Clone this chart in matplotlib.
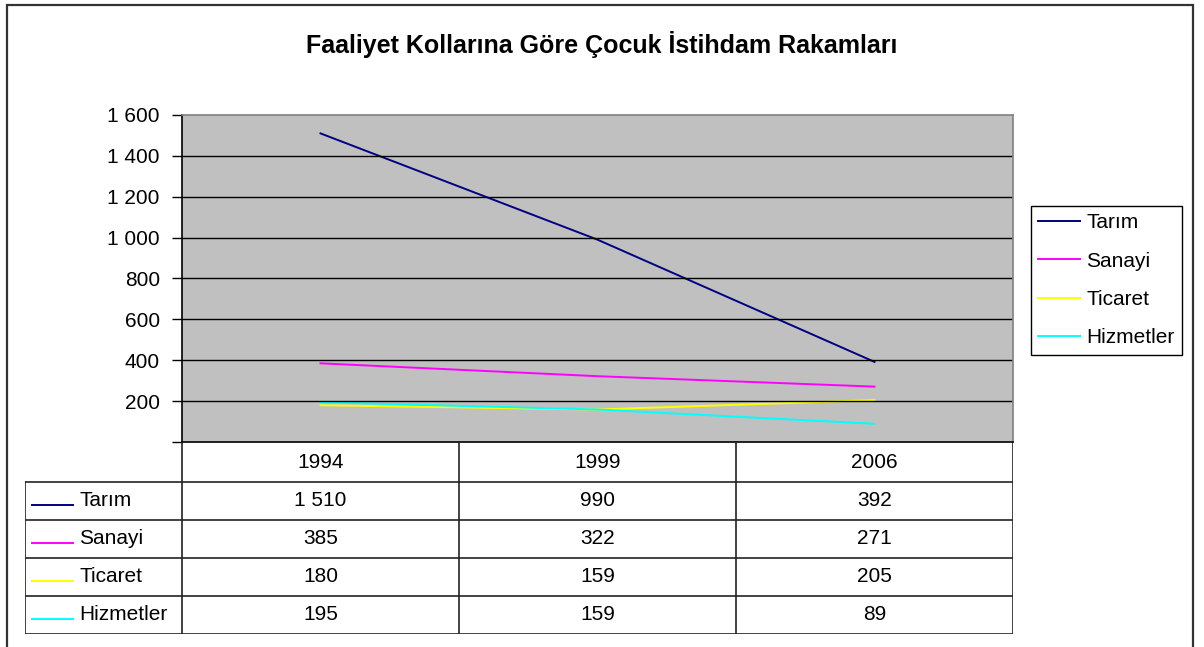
import numpy as np
import matplotlib.pyplot as plt
from matplotlib.lines import Line2D
from matplotlib.patches import Rectangle

plt.rcParams['font.family'] = ['Liberation Sans', 'DejaVu Sans']

# veriler
years = ['1994', '1999', '2006']
series_names = ['Tarım', 'Sanayi', 'Ticaret', 'Hizmetler']
tarim = [1510, 990, 392]
sanayi = [385, 322, 271]
ticaret = [180, 159, 205]
hizmetler = [195, 159, 89]
colors = ['#000080', '#FF00FF', '#FFFF00', '#00FFFF']
y_ticks = [200, 400, 600, 800, 1000, 1200, 1400, 1600]

all_series = [tarim, sanayi, ticaret, hizmetler]

W, H = 1204, 647
fig = plt.figure(figsize=(W / 100, H / 100), dpi=100)

def fx(px):
    return px / W

def fy(py):
    return 1 - py / H

# dış çerçeve
fig.patches.append(Rectangle((fx(7), -0.05), fx(1193 - 7), fy(5) + 0.05,
                             transform=fig.transFigure, fill=False,
                             edgecolor='#333333', lw=1.6))

fig.text(0.5, fy(45), 'Faaliyet Kollarına Göre Çocuk İstihdam Rakamları',
         ha='center', va='center', fontsize=18, fontweight='bold')

# grafik alanı
left, right, top, bottom = 182, 1013, 115, 442
ax = fig.add_axes([fx(left), fy(bottom), fx(right - left), (bottom - top) / H])
ax.set_facecolor('#C0C0C0')
x = np.arange(len(years))
for vals, name, c in zip(all_series, series_names, colors):
    ax.plot(x, vals, color=c, lw=1.4, label=name)
ax.set_xlim(-0.5, len(years) - 0.5)
ax.set_ylim(0, 1600)
ax.set_yticks([0] + y_ticks)
ax.set_yticklabels([''] + [f'{v:,}'.replace(',', ' ') for v in y_ticks], fontsize=15)
ax.set_xticks([])
for v in y_ticks[:-1]:
    ax.axhline(v, color='black', lw=1)
ax.tick_params(axis='y', length=7, width=1, pad=9)
ax.spines['left'].set_color('black')
ax.spines['bottom'].set_color('black')
ax.spines['top'].set_color('#808080')
ax.spines['right'].set_color('#808080')
for s in ax.spines.values():
    s.set_linewidth(1.2)

# lejant
handles = [Line2D([], [], color=c, lw=1.4) for c in colors]
leg = fig.legend(handles, series_names, loc='upper left',
                 bbox_to_anchor=(fx(1031), fy(206)), borderaxespad=0,
                 fontsize=15, handlelength=2.0, handletextpad=0.3,
                 labelspacing=0.93, borderpad=0.35, fancybox=False,
                 framealpha=1, edgecolor='black')
leg.get_frame().set_linewidth(1.0)

# veri tablosu
tleft, tbot = 25, 634
label_w = (left - tleft) / ((right - left) / len(years))
tab = fig.add_axes([fx(tleft), fy(tbot), fx(right - tleft), (tbot - bottom) / H])
tab.set_xlim(-0.5 - label_w, len(years) - 0.5)
row_h = [40, 38, 38, 38, 38]
edges = np.concatenate([[0], np.cumsum(row_h)])
tab.set_ylim(edges[-1], 0)
tab.axis('off')
lc = '#222222'
for i in range(len(years) + 1):
    tab.plot([i - 0.5, i - 0.5], [0, edges[-1]], color=lc, lw=1.2)
tab.plot([-0.5 - label_w, -0.5 - label_w], [edges[1], edges[-1]], color=lc, lw=1.2)
for e in edges[1:]:
    tab.plot([-0.5 - label_w, len(years) - 0.5], [e, e], color=lc, lw=1.2)
for i, yr in enumerate(years):
    tab.text(i, (edges[0] + edges[1]) / 2, yr, ha='center', va='center', fontsize=15)
for r, (vals, name, c) in enumerate(zip(all_series, series_names, colors)):
    yc = (edges[r + 1] + edges[r + 2]) / 2
    x0 = -0.5 - label_w
    tab.plot([x0 + 0.025, x0 + 0.175], [yc + 4, yc + 4], color=c, lw=1.4)
    tab.text(x0 + 0.195, yc, name, ha='left', va='center', fontsize=15)
    for i, v in enumerate(vals):
        tab.text(i, yc, f'{v:,}'.replace(',', ' '), ha='center', va='center', fontsize=15)

fig.savefig('out.png', dpi=100)
